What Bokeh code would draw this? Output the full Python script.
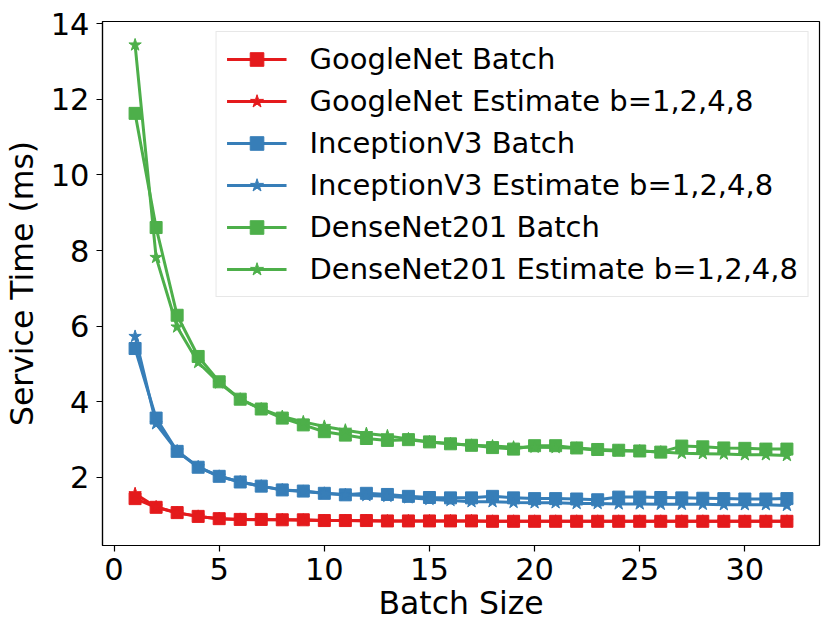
from bokeh.plotting import figure
from bokeh.models import Range1d, FixedTicker, Legend
from bokeh.embed import file_html
from bokeh.resources import INLINE

batch_size = list(range(1, 33))

googlenet_batch = [1.44, 1.21, 1.07, 0.97, 0.91, 0.89, 0.89, 0.88, 0.88, 0.86, 0.86, 0.86,
                   0.85, 0.85, 0.85, 0.85, 0.85, 0.84, 0.84, 0.84, 0.84, 0.84, 0.84, 0.84,
                   0.84, 0.84, 0.84, 0.84, 0.84, 0.84, 0.84, 0.84]
googlenet_est = [1.57, 1.22, 1.06, 0.97, 0.91, 0.89, 0.88, 0.88, 0.87, 0.86, 0.86, 0.85,
                 0.85, 0.85, 0.85, 0.85, 0.85, 0.84, 0.84, 0.84, 0.84, 0.84, 0.84, 0.84,
                 0.84, 0.84, 0.84, 0.84, 0.84, 0.84, 0.84, 0.84]
inception_batch = [5.41, 3.57, 2.69, 2.27, 2.03, 1.88, 1.77, 1.67, 1.64, 1.58, 1.54, 1.58,
                   1.55, 1.50, 1.47, 1.46, 1.46, 1.50, 1.46, 1.44, 1.44, 1.43, 1.41, 1.48,
                   1.48, 1.47, 1.46, 1.45, 1.44, 1.43, 1.43, 1.44]
inception_est = [5.73, 3.42, 2.70, 2.28, 2.03, 1.88, 1.77, 1.67, 1.63, 1.58, 1.54, 1.52,
                 1.50, 1.46, 1.42, 1.39, 1.36, 1.36, 1.34, 1.33, 1.33, 1.31, 1.31, 1.30,
                 1.30, 1.29, 1.29, 1.29, 1.28, 1.28, 1.28, 1.26]
densenet_batch = [11.63, 8.61, 6.29, 5.20, 4.53, 4.07, 3.81, 3.57, 3.39, 3.21, 3.12, 3.03,
                  2.98, 3.00, 2.94, 2.89, 2.85, 2.79, 2.75, 2.84, 2.84, 2.78, 2.74, 2.72,
                  2.70, 2.67, 2.83, 2.81, 2.78, 2.77, 2.75, 2.75]
densenet_est = [13.44, 7.82, 5.98, 5.04, 4.50, 4.07, 3.81, 3.61, 3.47, 3.35, 3.25, 3.16,
                3.10, 3.02, 2.94, 2.89, 2.85, 2.83, 2.80, 2.80, 2.79, 2.77, 2.72, 2.70,
                2.70, 2.67, 2.64, 2.63, 2.62, 2.60, 2.60, 2.58]

x_ticks = [0, 5, 10, 15, 20, 25, 30]
y_ticks = [2, 4, 6, 8, 10, 12, 14]

RED, BLUE, GREEN = "#e41a1c", "#377eb8", "#4daf4a"
FONT = "DejaVu Sans"

p = figure(frame_width=717, frame_height=524, output_backend="svg", toolbar_location=None,
           x_range=Range1d(-0.55, 33.55), y_range=Range1d(0.2, 14.06),
           min_border_left=100, min_border_right=4, min_border_top=21, min_border_bottom=74)
p.xgrid.visible = False
p.ygrid.visible = False
p.outline_line_color = "black"
p.outline_line_width = 1.2

series = [
    ("GoogleNet Batch", googlenet_batch, RED, "square", 12),
    ("GoogleNet Estimate b=1,2,4,8", googlenet_est, RED, "star", 13),
    ("InceptionV3 Batch", inception_batch, BLUE, "square", 12),
    ("InceptionV3 Estimate b=1,2,4,8", inception_est, BLUE, "star", 13),
    ("DenseNet201 Batch", densenet_batch, GREEN, "square", 12),
    ("DenseNet201 Estimate b=1,2,4,8", densenet_est, GREEN, "star", 13),
]
items = []
for label, ys, col, mk, sz in series:
    r1 = p.line(batch_size, ys, line_color=col, line_width=3)
    r2 = p.scatter(batch_size, ys, marker=mk, size=sz, fill_color=col, line_color=col)
    items.append((label, [r1, r2]))

legend = Legend(items=items, location="top_right")
legend.margin = 10
legend.padding = 10
legend.spacing = 8
legend.label_height = 34
legend.glyph_height = 34
legend.glyph_width = 60
legend.label_standoff = 23
legend.label_text_font = FONT
legend.label_text_font_size = "29px"
legend.label_text_color = "black"
legend.border_line_color = "#d0d0d0"
legend.border_line_width = 1.5
legend.background_fill_alpha = 0.8
p.add_layout(legend, "center")

for ax in (p.xaxis[0], p.yaxis[0]):
    ax.axis_line_color = "black"
    ax.axis_line_width = 1.2
    ax.major_tick_line_color = "black"
    ax.major_tick_line_width = 1.2
    ax.major_tick_out = 6
    ax.major_tick_in = 0
    ax.minor_tick_line_color = None
    ax.major_label_text_font = FONT
    ax.major_label_text_font_size = "30.5px"
    ax.major_label_text_color = "black"
    ax.axis_label_text_font = FONT
    ax.axis_label_text_font_size = "31.5px"
    ax.axis_label_text_font_style = "normal"
    ax.axis_label_text_color = "black"

p.xaxis.ticker = FixedTicker(ticks=x_ticks)
p.yaxis.ticker = FixedTicker(ticks=y_ticks)
p.xaxis.axis_label = "Batch Size"
p.yaxis.axis_label = "Service Time (ms)"
p.xaxis.major_label_standoff = 6
p.yaxis.major_label_standoff = 7
p.xaxis.axis_label_standoff = 2
p.yaxis.axis_label_standoff = 8

open("out.html", "w").write(file_html(p, INLINE))
